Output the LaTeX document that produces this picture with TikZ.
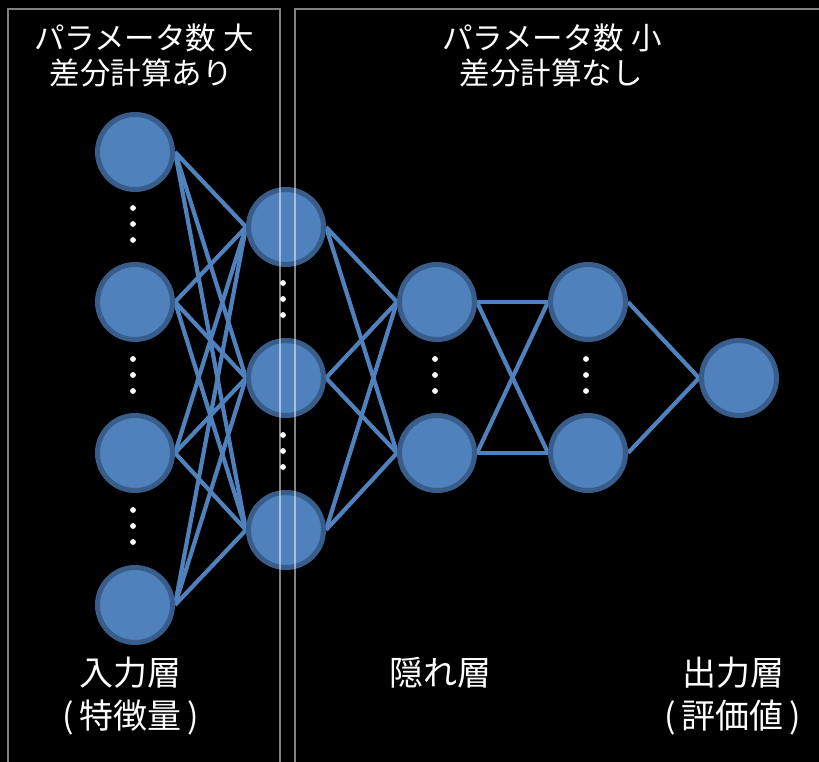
\documentclass[tikz,border=0pt]{standalone}
\usepackage{fontspec}
\newfontfamily\jp{Noto Sans CJK JP}
\usetikzlibrary{backgrounds}
\definecolor{nodefill}{HTML}{4F81BD}
\definecolor{nodeedge}{HTML}{385D8A}
\definecolor{linkcol}{HTML}{4F81BD}
\begin{document}
\begin{tikzpicture}[x=1pt,y=-1pt,
  neuron/.style={circle,fill=nodefill,draw=nodeedge,line width=5pt,minimum size=75pt,inner sep=0pt},
  link/.style={draw=linkcol,line width=4.2pt},
  frame/.style={draw=white,draw opacity=0.5,line width=2.5pt},
  label/.style={text=white,font=\jp\fontsize{30.5}{36}\selectfont,align=center,inner sep=0pt},
  biglabel/.style={label,font=\jp\fontsize{34}{40}\selectfont},
  vdot/.style={fill=white}]
\useasboundingbox (0,0) rectangle (819,762);
\begin{scope}[on background layer]
\fill[black] (0,0) rectangle (819,762);
\end{scope}
% nodes
\node[neuron] (a1) at (135,152) {};
\node[neuron] (a2) at (135,302) {};
\node[neuron] (a3) at (135,453) {};
\node[neuron] (a4) at (135,605) {};
\node[neuron] (b1) at (286,227) {};
\node[neuron] (b2) at (286,378) {};
\node[neuron] (b3) at (286,530) {};
\node[neuron] (c1) at (437,302) {};
\node[neuron] (c2) at (437,453) {};
\node[neuron] (d1) at (588,302) {};
\node[neuron] (d2) at (588,453) {};
\node[neuron] (e1) at (739,378) {};
% links
\begin{scope}[on background layer]
\foreach \s in {a1,a2,a3,a4}{\foreach \t in {b1,b2,b3}{\draw[link] (\s.east) -- (\t.west);}}
\foreach \s in {b1,b2,b3}{\foreach \t in {c1,c2}{\draw[link] (\s.east) -- (\t.west);}}
\foreach \s in {c1,c2}{\foreach \t in {d1,d2}{\draw[link] (\s.east) -- (\t.west);}}
\foreach \s in {d1,d2}{\draw[link] (\s.east) -- (e1.west);}
\end{scope}
% dots
\foreach \x/\y in {133/208,133/359,133/510,283/283,283/435,435/359,586/359}{
  \foreach \d in {0,16,32}{\fill[vdot] (\x,\y+\d) circle (2.9);}}
% texts
\node[label] (t1) at (144,38) {パラメータ数 大};
\node[label] (t2) at (141,73) {差分計算あり};
\node[label] (t3) at (552,38) {パラメータ数 小};
\node[label] (t4) at (551,73) {差分計算なし};
\node[biglabel] (t5) at (130,673) {入力層};
\node[biglabel] (t6) at (131,718) {(\,特徴量\,)};
\node[biglabel] (t7) at (440,673) {隠れ層};
\node[biglabel] (t8) at (733,673) {出力層};
\node[biglabel] (t9) at (733,718) {(\,評価値\,)};
% frames
\clip (0,0) rectangle (819,762);
\draw[frame] (8,9) rectangle (280,780);
\draw[frame] (295,9) rectangle (840,780);
\end{tikzpicture}
\end{document}
